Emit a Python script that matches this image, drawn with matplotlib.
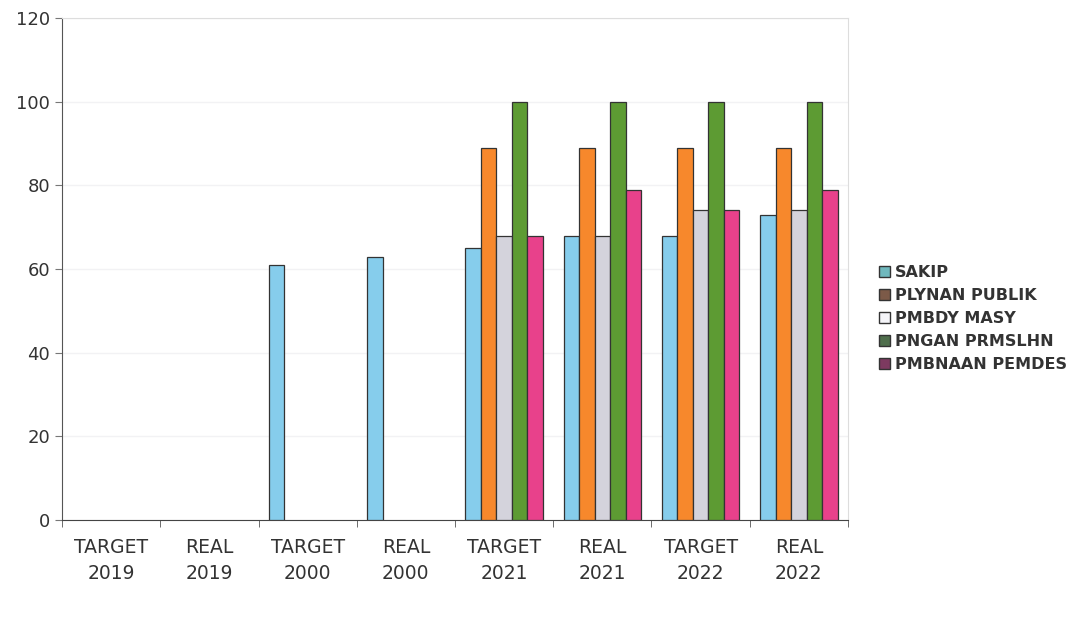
import numpy as np
import matplotlib.pyplot as plt
from matplotlib.patches import Patch

# Data
categories = ['TARGET\n2019', 'REAL\n2019', 'TARGET\n2000', 'REAL\n2000',
              'TARGET\n2021', 'REAL\n2021', 'TARGET\n2022', 'REAL\n2022']
series = ['SAKIP', 'PLYNAN PUBLIK', 'PMBDY MASY', 'PNGAN PRMSLHN', 'PMBNAAN PEMDES']
sakip = [0, 0, 61, 63, 65, 68, 68, 73]
plynan = [0, 0, 0, 0, 89, 89, 89, 89]
pmbdy = [0, 0, 0, 0, 68, 68, 74, 74]
pngan = [0, 0, 0, 0, 100, 100, 100, 100]
pmbnaan = [0, 0, 0, 0, 68, 79, 74, 79]
values = [sakip, plynan, pmbdy, pngan, pmbnaan]

bar_colors = ['#86cdec', '#f7882c', '#d4d3dc', '#5d9b33', '#e8418b']
swatch_colors = ['#6fb8bd', '#7c5a48', '#f4f4f8', '#4f6e4c', '#7d3a60']

fig = plt.figure(figsize=(10.81, 6.20), dpi=100)
ax = fig.add_axes([0.0574, 0.161, 0.727, 0.81])

x = np.arange(len(categories))
w = 0.158
for i, vals in enumerate(values):
    vals = np.array(vals, dtype=float)
    shown = vals > 0  # empty values leave no bar
    ax.bar((x + (i - 2) * w)[shown], vals[shown], w, color=bar_colors[i],
           edgecolor='#333333', linewidth=0.9, zorder=3)

ax.set_xlim(-0.5, len(categories) - 0.5)
ax.set_ylim(0, 120)
ax.set_yticks(np.arange(0, 121, 20))
ax.set_xticks(x)
ax.set_xticklabels(categories, linespacing=1.45)
ax.set_xticks(np.arange(-0.5, len(categories), 1), minor=True)
ax.tick_params(axis='x', which='major', length=0, pad=13, labelsize=13.5, colors='#333333')
ax.tick_params(axis='x', which='minor', length=5, color='#555555')
ax.tick_params(axis='y', length=5, labelsize=13, colors='#333333', color='#777777')

ax.yaxis.grid(True, color='#f2f2f4', linewidth=1, zorder=0)
ax.spines['left'].set_color('#555555')
ax.spines['bottom'].set_color('#444444')
ax.spines['top'].set_color('#dddddd')
ax.spines['right'].set_color('#dddddd')

handles = [Patch(facecolor=swatch_colors[i], edgecolor='#333333', linewidth=1)
           for i in range(len(series))]
leg = fig.legend(handles, series, loc='upper left', bbox_to_anchor=(0.8, 0.595),
                 frameon=False, prop={'weight': 'bold', 'size': 11.5},
                 handlelength=0.7, handleheight=0.7, handletextpad=0.3,
                 labelspacing=0.5)
for t in leg.get_texts():
    t.set_color('#333333')

fig.savefig('out.png', dpi=100)
